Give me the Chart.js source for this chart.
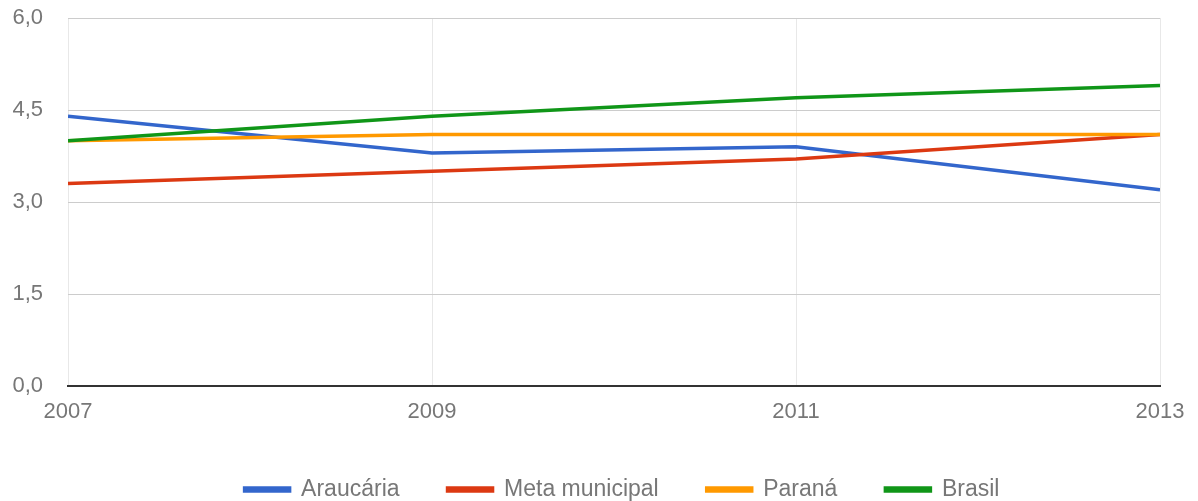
<!DOCTYPE html>
<html>
<head>
<meta charset="utf-8">
<script src="https://cdn.jsdelivr.net/npm/chart.js@4"></script>
<style>
  body { margin: 0; background: #fff; }
  #wrap { width: 1198px; height: 501px; position: relative; }
</style>
</head>
<body>
<div id="wrap"><canvas id="grafico"></canvas></div>
<script>
// anos e valores
const anos = [2007, 2009, 2011, 2013];
const araucaria = [4.4, 3.8, 3.9, 3.2];
const metaMunicipal = [3.3, 3.5, 3.7, 4.1];
const parana = [4.0, 4.1, 4.1, 4.1];
const brasil = [4.0, 4.4, 4.7, 4.9];
const ticksY = [0, 1.5, 3, 4.5, 6];

const fonte = "'Liberation Sans', Arial, sans-serif";
const cinza = "#777";

function serie(nome, valores, cor, ordem) {
  return {
    label: nome,
    data: anos.map((a, i) => ({ x: a, y: valores[i] })),
    borderColor: cor,
    backgroundColor: cor,
    borderWidth: 3.5,
    pointRadius: 0,
    tension: 0,
    order: ordem,
  };
}

// move a legenda (para baixo e para a direita) sem mexer na área do gráfico
const moveLegenda = {
  id: "moveLegenda",
  afterLayout(chart) {
    const lg = chart.legend;
    if (lg) {
      lg.top += 10; lg.bottom += 10;
      lg.left += 42; lg.right += 42;
    }
  },
};

new Chart(document.getElementById("grafico"), {
  type: "line",
  data: {
    datasets: [
      serie("Araucária", araucaria, "#3366cc", 4),
      serie("Meta municipal", metaMunicipal, "#dc3912", 3),
      serie("Paraná", parana, "#ff9900", 2),
      serie("Brasil", brasil, "#109618", 1),
    ],
  },
  plugins: [moveLegenda],
  options: {
    responsive: true,
    maintainAspectRatio: false,
    animation: false,
    layout: { padding: { top: 18, right: 38, bottom: 0, left: 0 } },
    plugins: {
      tooltip: { enabled: false },
      legend: {
        position: "bottom",
        labels: {
          font: { family: fonte, size: 23 },
          color: cinza,
          boxWidth: 45,
          boxHeight: 3,
          padding: 48,
          sort: (a, b) => a.datasetIndex - b.datasetIndex,
        },
      },
    },
    scales: {
      x: {
        type: "linear",
        min: 2007,
        max: 2013,
        afterBuildTicks: (ax) => { ax.ticks = anos.map((v) => ({ value: v })); },
        ticks: {
          font: { family: fonte, size: 22 },
          color: cinza,
          padding: 13,
          maxRotation: 0,
          callback: (v) => String(v),
        },
        grid: { color: "#e8e8e8", drawTicks: false },
        border: { color: "#333", width: 2 },
        afterFit: (ax) => { ax.height = 34; },
      },
      y: {
        min: 0,
        max: 6,
        afterBuildTicks: (ax) => { ax.ticks = ticksY.map((v) => ({ value: v })); },
        ticks: {
          font: { family: fonte, size: 22 },
          color: cinza,
          padding: 25,
          callback: (v) => v.toFixed(1).replace(".", ","),
        },
        grid: {
          color: (c) => (c.tick && c.tick.value === 0 ? "#333" : "#cccccc"),
          drawTicks: false,
        },
        border: { display: false },
        afterFit: (ax) => {
          ax.width = 68;
          ax.paddingTop = 0;
          ax.paddingBottom = 0;
        },
      },
    },
  },
});
</script>
</body>
</html>
